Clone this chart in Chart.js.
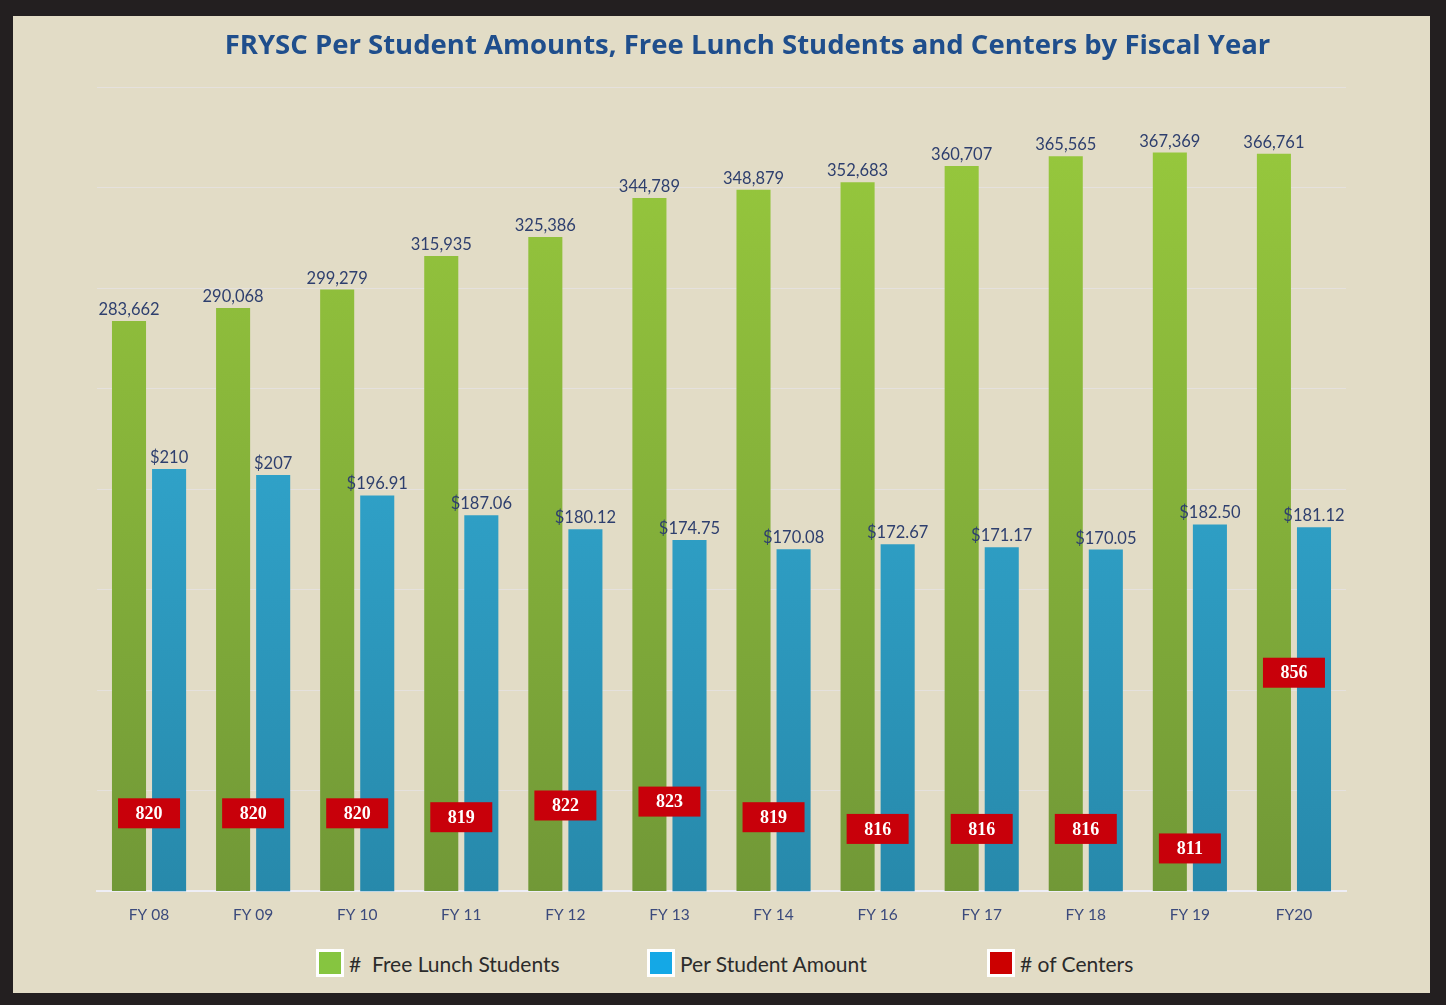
<!DOCTYPE html>
<html>
<head>
<meta charset="utf-8">
<script src="https://cdn.jsdelivr.net/npm/chart.js@4.4.1/dist/chart.umd.min.js"></script>
<style>
  html, body { margin: 0; padding: 0; background: #231f20; }
  #frame {
    position: absolute; left: 13px; top: 16px;
    width: 1417px; height: 977px;
    background: #e2dcc6;
  }
  #fryscChart { position: absolute; left: 0; top: 0; }
  #legend { position: absolute; left: 0; top: 933px; width: 1417px; height: 30px; }
  .legend-item {
    position: absolute; top: 0; display: flex; align-items: center;
    font-family: Lato, sans-serif; font-size: 21px; color: #2b2b2b; white-space: pre;
  }
  .legend-box {
    width: 22px; height: 22px; border: 3px solid #ffffff; margin-right: 5px;
  }
</style>
</head>
<body>
<div id="frame">
  <canvas id="fryscChart" width="1417" height="930"></canvas>
  <div id="legend"></div>
</div>
<script>
// FRYSC chart data
const categories = ["FY 08", "FY 09", "FY 10", "FY 11", "FY 12", "FY 13", "FY 14", "FY 16", "FY 17", "FY 18", "FY 19", "FY20"];
const freeLunchStudents = [283662, 290068, 299279, 315935, 325386, 344789, 348879, 352683, 360707, 365565, 367369, 366761];
const perStudentAmount = [210, 207, 196.91, 187.06, 180.12, 174.75, 170.08, 172.67, 171.17, 170.05, 182.50, 181.12];
const perStudentLabels = ["$210", "$207", "$196.91", "$187.06", "$180.12", "$174.75", "$170.08", "$172.67", "$171.17", "$170.05", "$182.50", "$181.12"];
const centerCounts = [820, 820, 820, 819, 822, 823, 819, 816, 816, 816, 811, 856];

const legendColors = ["#86c540", "#14a8e6", "#cc0000"];
const legendLeft = [303, 634, 974];

function barGradient(top, bottom) {
  return function (context) {
    const { ctx, chartArea } = context.chart;
    if (!chartArea) return top;
    const g = ctx.createLinearGradient(0, chartArea.top, 0, chartArea.bottom);
    g.addColorStop(0, top);
    g.addColorStop(1, bottom);
    return g;
  };
}

// title sits a bit right of centre in the original
const titleShift = {
  id: "titleShift",
  afterLayout(chart) {
    const t = chart.titleBlock;
    if (t) { t.left += 26; t.right += 26; }
  }
};

// value labels above bars + red boxes for centers
const labelPlugin = {
  id: "valueLabels",
  afterDatasetsDraw(chart) {
    const ctx = chart.ctx;
    ctx.save();
    ctx.font = "16.5px Lato";
    ctx.fillStyle = "#2e3f6e";
    ctx.textAlign = "center";
    ctx.textBaseline = "bottom";
    chart.getDatasetMeta(0).data.forEach((bar, i) => {
      ctx.fillText(freeLunchStudents[i].toLocaleString("en-US"), bar.x, bar.y - 3);
    });
    chart.getDatasetMeta(1).data.forEach((bar, i) => {
      ctx.fillText(perStudentLabels[i], bar.x, bar.y - 3);
    });

    const meta = chart.getDatasetMeta(2);
    ctx.font = "bold 18px 'Liberation Serif'";
    ctx.textBaseline = "middle";
    meta.data.forEach((pt, i) => {
      ctx.fillStyle = "#c8000a";
      ctx.fillRect(pt.x - 31, pt.y - 15, 62, 30);
      ctx.fillStyle = "#ffffff";
      ctx.fillText(String(centerCounts[i]), pt.x, pt.y + 1);
    });
    ctx.restore();
  }
};

// html legend built from the datasets
const htmlLegend = {
  id: "htmlLegend",
  afterUpdate(chart) {
    const box = document.getElementById("legend");
    box.innerHTML = "";
    chart.data.datasets.forEach((ds, i) => {
      const item = document.createElement("div");
      item.className = "legend-item";
      item.style.left = legendLeft[i] + "px";
      const sw = document.createElement("span");
      sw.className = "legend-box";
      sw.style.background = legendColors[i];
      const txt = document.createElement("span");
      txt.textContent = ds.label;
      item.appendChild(sw);
      item.appendChild(txt);
      box.appendChild(item);
    });
  }
};

const ctx = document.getElementById("fryscChart").getContext("2d");
new Chart(ctx, {
  type: "bar",
  data: {
    labels: categories,
    datasets: [
      {
        label: "#  Free Lunch Students",
        data: freeLunchStudents,
        backgroundColor: barGradient("#99cb3d", "#719837"),
        yAxisID: "y"
      },
      {
        label: "Per Student Amount",
        data: perStudentAmount,
        backgroundColor: barGradient("#37b7e2", "#2789ab"),
        yAxisID: "y2"
      },
      {
        type: "line",
        label: "# of Centers",
        data: centerCounts,
        backgroundColor: "#cc0000",
        borderColor: "#cc0000",
        showLine: false,
        pointRadius: 0,
        yAxisID: "y3"
      }
    ]
  },
  options: {
    responsive: false,
    animation: false,
    layout: { padding: { left: 84, right: 84, top: 0, bottom: 16 } },
    datasets: {
      bar: { categoryPercentage: 0.77, barPercentage: 0.85 }
    },
    scales: {
      x: {
        grid: { display: false },
        border: { display: true, color: "rgba(240,240,250,0.9)", width: 2 },
        ticks: { color: "#3b4a7c", font: { family: "Lato", size: 15.5 }, padding: 6 }
      },
      y: {
        display: true,
        min: 0, max: 400000,
        ticks: { display: false, stepSize: 50000 },
        border: { display: false },
        grid: { color: "rgba(232,230,248,0.45)", drawTicks: false }
      },
      y2: { display: false, min: 0, max: 400 },
      y3: { display: false, min: 800, max: 1006 }
    },
    plugins: {
      title: {
        display: true,
        text: "FRYSC Per Student Amounts, Free Lunch Students and Centers by Fiscal Year",
        color: "#1f4e8c",
        font: { family: "Open Sans", size: 27.5, weight: "bold" },
        padding: { top: 14, bottom: 24 }
      },
      legend: { display: false },
      tooltip: { enabled: false }
    }
  },
  plugins: [titleShift, labelPlugin, htmlLegend]
});
</script>
</body>
</html>
